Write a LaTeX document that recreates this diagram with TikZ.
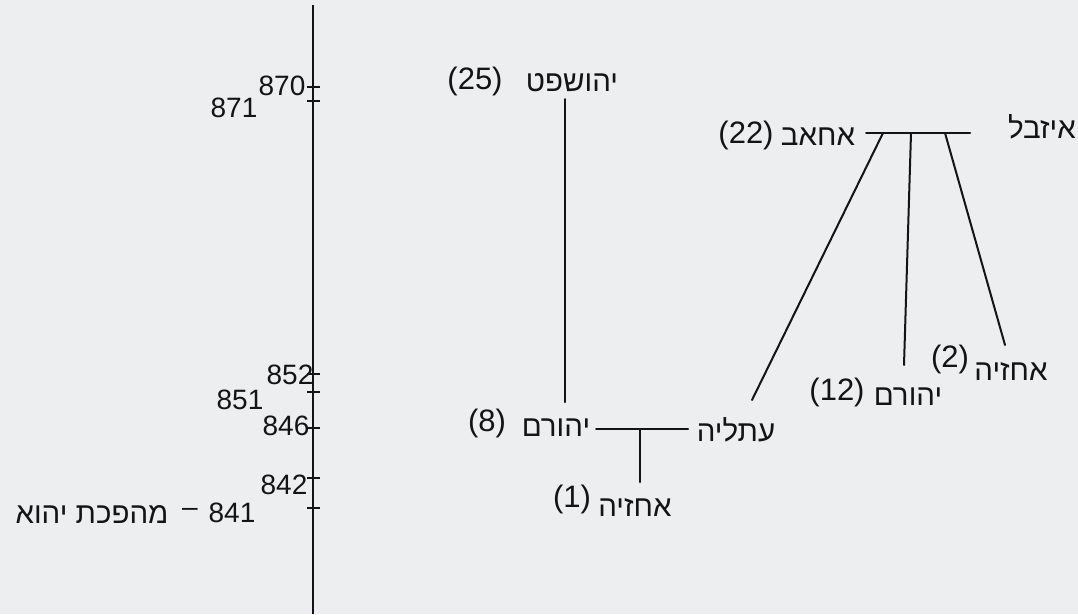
\documentclass[tikz,border=0pt]{standalone}
\usepackage{fontspec}
\setmainfont{Liberation Sans}
\newfontfamily\hebfont[Script=Hebrew]{Liberation Sans}
\TeXXeTstate=1
\definecolor{paper}{RGB}{237,238,239}
\definecolor{ink}{RGB}{20,20,22}
\newcommand{\heb}[1]{{\hebfont\beginR #1\endR}}
\begin{document}
\begin{tikzpicture}[x=1pt,y=-1pt,
  lbl/.style={inner sep=0pt,anchor=center,text=ink,font=\fontsize{28}{33}\selectfont},
  plbl/.style={lbl,font=\fontsize{31}{36}\selectfont},
  hlbl/.style={lbl,font=\hebfont\fontsize{29.5}{35}\selectfont},
  ln/.style={draw=ink,line width=2pt,line cap=round},
  axis/.style={draw=ink,line width=2.6pt},
  tick/.style={draw=ink,line width=1.7pt}]
\fill[paper] (0,0) rectangle (1078,614);
\useasboundingbox (0,0) rectangle (1078,614);

% timeline
\coordinate (tltop) at (313,5);
\coordinate (tlbot) at (313,614);
\draw[axis] (tltop) -- (tlbot);
\foreach \yy/\nm in {87/k870,101/k871,374/k852,392/k851,428/k846,478/k842,508/k841}{
  \coordinate (\nm) at (313,\yy);
  \draw[tick] ([xshift=-6pt]\nm) -- ([xshift=7pt]\nm);
}
\node[lbl] (t870) at (282,86) {870};
\node[lbl] (t871) at (234,108) {871};
\node[lbl] (t852) at (290,375) {852};
\node[lbl] (t851) at (240,400) {851};
\node[lbl] (t846) at (286,426) {846};
\node[lbl] (t842) at (284,485) {842};
\node[lbl] (t841) at (232,513) {841};
\node[lbl] (dsh) at (190,512) {--};
\node[hlbl] (jehu) at (92,515) {\heb{מהפכת יהוא}};

% Jehoshaphat line
\node[plbl] (p25) at (475,81) {(25)};
\node[hlbl] (jsh) at (572,83) {\heb{יהושפט}};
\node[plbl] (p8) at (487,423) {(8)};
\node[hlbl] (jor8) at (556,428) {\heb{יהורם}};
\node[hlbl] (ath) at (736,430) {\heb{עתליה}};
\node[plbl] (p1) at (572,499) {(1)};
\node[hlbl] (ahz1) at (635,508) {\heb{אחזיה}};
\coordinate (js1) at (565,99);
\coordinate (js2) at (565,402);
\draw[ln] (js1) -- (js2);
\coordinate (m1) at (596,429);
\coordinate (m2) at (688,429);
\coordinate (mc) at (640,429);
\coordinate (a1) at (640,482);
\draw[ln] (m1) -- (m2);
\draw[ln] (mc) -- (a1);

% Ahab family
\node[plbl] (p22) at (746,135) {(22)};
\node[hlbl] (ahab) at (818,137) {\heb{אחאב}};
\node[hlbl] (jez) at (1042,127) {\heb{איזבל}};
\coordinate (h1) at (866,133);
\coordinate (h2) at (970,133);
\draw[ln] (h1) -- (h2);
\coordinate (dl) at (883,133);
\coordinate (dm) at (911,133);
\coordinate (dr) at (945,133);
\coordinate (el) at (752,400);
\coordinate (em) at (904,365);
\coordinate (er) at (1005,345);
\draw[ln] (dl) -- (el);
\draw[ln] (dm) -- (em);
\draw[ln] (dr) -- (er);
\node[plbl] (p12) at (837,392) {(12)};
\node[hlbl] (jor12) at (908,397) {\heb{יהורם}};
\node[plbl] (p2) at (950,359) {(2)};
\node[hlbl] (ahz2) at (1011,372) {\heb{אחזיה}};
\end{tikzpicture}
\end{document}
